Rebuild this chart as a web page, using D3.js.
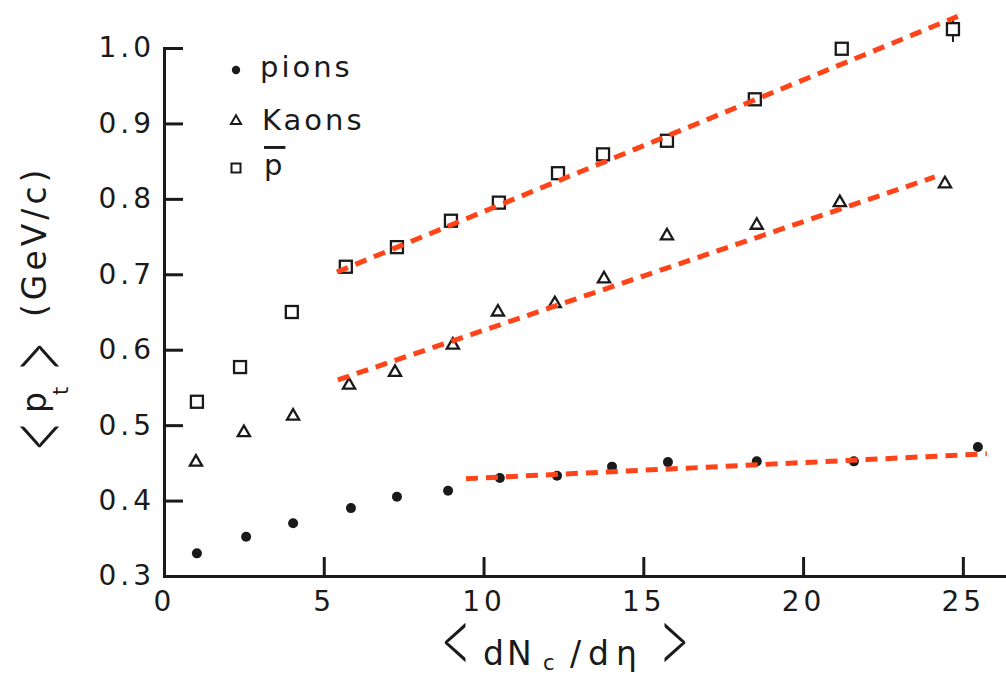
<!DOCTYPE html>
<html>
<head>
<meta charset="utf-8">
<script src="https://cdn.jsdelivr.net/npm/d3@7"></script>
<style>
  body { margin: 0; background: #fff; }
  svg { display: block; font-family: "DejaVu Sans", sans-serif; }
  .tick text { font-size: 28px; letter-spacing: 4px; }
</style>
</head>
<body>
<svg id="chart" width="1006" height="673"></svg>
<script>
const width = 1006;
const height = 673;

// <dNc/deta> and <pt>
const pionX = [1.03, 2.57, 4.04, 5.85, 7.29, 8.89, 10.51, 12.30, 14.02, 15.77, 18.55, 21.59, 25.47];
const pionY = [0.330, 0.352, 0.370, 0.390, 0.405, 0.413, 0.430, 0.433, 0.445, 0.451, 0.452, 0.452, 0.471];
const kaonX = [1.00, 2.50, 4.04, 5.79, 7.23, 9.04, 10.45, 12.23, 13.77, 15.74, 18.55, 21.15, 24.44];
const kaonY = [0.451, 0.490, 0.512, 0.553, 0.570, 0.606, 0.650, 0.661, 0.694, 0.751, 0.765, 0.795, 0.820];
const pbarX = [1.03, 2.38, 4.00, 5.69, 7.29, 8.98, 10.48, 12.33, 13.74, 15.74, 18.49, 21.21, 24.69];
const pbarY = [0.531, 0.577, 0.650, 0.710, 0.736, 0.771, 0.795, 0.834, 0.859, 0.877, 0.932, 0.999, 1.025];
const pbarErr = [0, 0, 0, 0, 0, 0, 0, 0, 0, 0, 0, 0, 0.017];

// dashed linear fits (start, end)
const fitPion = [[9.45, 0.429], [25.75, 0.462]];
const fitKaon = [[5.44, 0.560], [24.12, 0.829]];
const fitPbar = [[5.41, 0.703], [24.84, 1.042]];

const xTicks = [0, 5, 10, 15, 20, 25];
const yTicks = [0.3, 0.4, 0.5, 0.6, 0.7, 0.8, 0.9, 1.0];
const legendLabels = ['pions', 'Kaons', 'p'];

const margin = { left: 164, right: 0, top: 48, bottom: 97 };
const tickLen = 19;
const axisW = 3;
const ink = '#1a1a1a';

const svg = d3.select('#chart');

const x = d3.scaleLinear()
  .domain([0, 26.35])
  .range([margin.left, width - margin.right]);

const y = d3.scaleLinear()
  .domain([0.3, 1.0])
  .range([height - margin.bottom, margin.top]);

const styleAxis = g => {
  g.attr('font-family', null).attr('font-size', null);
  g.select('.domain').attr('stroke', ink).attr('stroke-width', axisW).attr('stroke-linecap', 'square');
  g.selectAll('.tick line').attr('stroke', ink).attr('stroke-width', axisW);
  g.selectAll('.tick text').attr('fill', ink);
};

// axes, ticks pointing inward
svg.append('g')
  .attr('transform', `translate(0, ${y(0.3)})`)
  .call(d3.axisBottom(x).tickValues(xTicks).tickSize(-tickLen).tickSizeOuter(0).tickPadding(15).tickFormat(d3.format('d')))
  .call(styleAxis);

svg.append('g')
  .attr('transform', `translate(${x(0)}, 0)`)
  .call(d3.axisLeft(y).tickValues(yTicks).tickSize(-tickLen).tickSizeOuter(0).tickPadding(9).tickFormat(d3.format('.1f')))
  .call(styleAxis);

// pions: filled dots
svg.append('g')
  .selectAll('circle')
  .data(pionX.map((d, i) => [d, pionY[i]]))
  .join('circle')
  .attr('cx', d => x(d[0]))
  .attr('cy', d => y(d[1]))
  .attr('r', 5)
  .attr('fill', ink);

// kaons: open triangles
const tri = d3.symbol().type(d3.symbolTriangle).size(64);
svg.append('g')
  .selectAll('path')
  .data(kaonX.map((d, i) => [d, kaonY[i]]))
  .join('path')
  .attr('d', tri)
  .attr('transform', d => `translate(${x(d[0])}, ${y(d[1])})`)
  .attr('fill', 'none')
  .attr('stroke', ink)
  .attr('stroke-width', 2.3);

// anti-protons: open squares with error bars
const pbar = pbarX.map((d, i) => ({ x: d, y: pbarY[i], e: pbarErr[i] }));
svg.append('g')
  .selectAll('line')
  .data(pbar.filter(d => d.e > 0))
  .join('line')
  .attr('x1', d => x(d.x)).attr('x2', d => x(d.x))
  .attr('y1', d => y(d.y + d.e)).attr('y2', d => y(d.y - d.e))
  .attr('stroke', ink)
  .attr('stroke-width', 2);

svg.append('g')
  .selectAll('rect')
  .data(pbar)
  .join('rect')
  .attr('x', d => x(d.x) - 6)
  .attr('y', d => y(d.y) - 6)
  .attr('width', 12)
  .attr('height', 12)
  .attr('fill', '#fff')
  .attr('stroke', ink)
  .attr('stroke-width', 2.3);

// dashed fit lines on top
const line = d3.line().x(d => x(d[0])).y(d => y(d[1]));
svg.append('g')
  .selectAll('path')
  .data([fitPion, fitKaon, fitPbar])
  .join('path')
  .attr('d', line)
  .attr('fill', 'none')
  .attr('stroke', '#ff4419')
  .attr('stroke-width', 5)
  .attr('stroke-dasharray', '12 8');

// legend
const legend = svg.append('g').attr('fill', ink).attr('font-size', 29).attr('letter-spacing', 3);
legend.append('circle').attr('cx', 236).attr('cy', 70).attr('r', 4.2);
legend.append('path').attr('d', d3.symbol().type(d3.symbolTriangle).size(44))
  .attr('transform', 'translate(236, 121)')
  .attr('fill', 'none').attr('stroke', ink).attr('stroke-width', 2);
legend.append('rect').attr('x', 231.5).attr('y', 163.5).attr('width', 9).attr('height', 9)
  .attr('fill', 'none').attr('stroke', ink).attr('stroke-width', 2);
legend.append('text').attr('x', 260).attr('y', 77).text(legendLabels[0]);
legend.append('text').attr('x', 262).attr('y', 130).text(legendLabels[1]);
legend.append('text').attr('x', 264).attr('y', 175)
  .attr('text-decoration', 'overline').text(legendLabels[2]);

// axis titles: pieces laid along a baseline (u along text, v below baseline)
function title(g, pieces) {
  pieces.forEach(p => {
    if (p.chevron) {
      g.append('text')
        .attr('transform', `translate(${p.u}, ${p.v}) scale(1.2, 2.1)`)
        .attr('text-anchor', 'middle')
        .attr('dominant-baseline', 'middle')
        .attr('font-family', 'Lato, "DejaVu Sans", sans-serif')
        .attr('font-weight', 300)
        .attr('font-size', 46)
        .attr('fill', ink)
        .text(p.t);
    } else {
      g.append('text')
        .attr('x', p.u).attr('y', p.v)
        .attr('font-size', p.fs)
        .attr('letter-spacing', p.ls || 0)
        .attr('fill', ink)
        .text(p.t);
    }
  });
}

title(svg.append('g').attr('transform', 'translate(0, 665)'), [
  { t: '<', chevron: true, u: 456, v: -14 },
  { t: 'dN', u: 483, v: 0, fs: 33, ls: 3 },
  { t: 'c', u: 543, v: 5, fs: 21 },
  { t: '/dη', u: 570, v: 0, fs: 33, ls: 7 },
  { t: '>', chevron: true, u: 674, v: -14 }
]);

title(svg.append('g').attr('transform', 'translate(46, 450) rotate(-90)'), [
  { t: '<', chevron: true, u: 14, v: 2 },
  { t: 'p', u: 37, v: 0, fs: 33 },
  { t: 't', u: 55, v: 22, fs: 21 },
  { t: '>', chevron: true, u: 93, v: 2 },
  { t: '(GeV/c)', u: 133, v: 0, fs: 33, ls: 4 }
]);
</script>
</body>
</html>
